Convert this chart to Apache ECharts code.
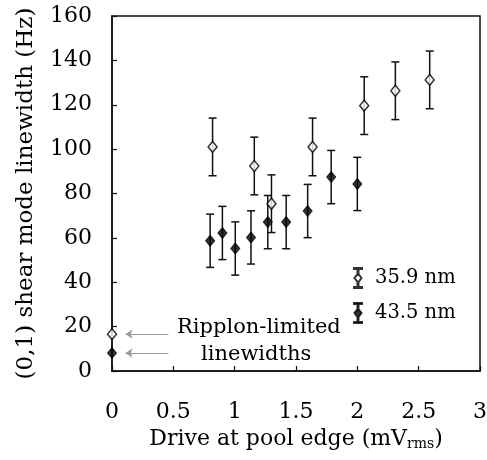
<!DOCTYPE html>
<html>
<head>
<meta charset="utf-8">
<script src="https://cdn.jsdelivr.net/npm/echarts@6/dist/echarts.min.js"></script>
<style>html,body{margin:0;padding:0;background:#fff}#c{width:487px;height:460px}</style>
</head>
<body>
<div id="c"></div>
<script>
// 35.9 nm (open diamonds)
var openX   = [0, 0.82, 1.16, 1.30, 1.635, 2.056, 2.31, 2.59];
var openY   = [16.6, 101, 92.4, 75.4, 101, 119.6, 126.3, 131.2];
var openErr = [0, 13, 13, 13, 13, 13, 13, 13];
// 43.5 nm (filled diamonds)
var fillX   = [0, 0.80, 0.90, 1.005, 1.133, 1.27, 1.42, 1.595, 1.787, 2.0];
var fillY   = [8.1, 58.7, 62.2, 55.2, 60.2, 67.1, 67.1, 72.1, 87.4, 84.3];
var fillErr = [0, 12, 12, 12, 12, 12, 12, 12, 12, 12];
var seriesNames = ['35.9 nm', '43.5 nm'];
var xTicks = [0, 0.5, 1, 1.5, 2, 2.5, 3];
var yTicks = [0, 20, 40, 60, 80, 100, 120, 140, 160];
// Annotation arrows (from, to) in data units
var arrowFromX = 0.46, arrowToX = 0.11;
var arrowY = [16.6, 8.1];

var FONT = 'DejaVu Serif';
function pts(xs, ys) { return xs.map(function (x, i) { return [x, ys[i]]; }); }
function errs(xs, ys, es) {
  var out = [];
  xs.forEach(function (x, i) { if (es[i] > 0) out.push([x, ys[i] - es[i], ys[i] + es[i]]); });
  return out;
}
function renderErr(params, api) {
  var x = api.value(0);
  var lo = api.coord([x, api.value(1)]);
  var hi = api.coord([x, api.value(2)]);
  var w = 4;
  var st = { stroke: '#111', lineWidth: 1.5 };
  return {
    type: 'group',
    children: [
      { type: 'line', shape: { x1: lo[0], y1: lo[1], x2: hi[0], y2: hi[1] }, style: st },
      { type: 'line', shape: { x1: lo[0] - w, y1: lo[1], x2: lo[0] + w, y2: lo[1] }, style: st },
      { type: 'line', shape: { x1: hi[0] - w, y1: hi[1], x2: hi[0] + w, y2: hi[1] }, style: st }
    ]
  };
}
var iconPath = 'path://M0 0H8V1H4.5V5.5H3.5V1H0Z M4 5.5L7.5 10L4 14.5L0.5 10Z M3.5 14.5H4.5V19H8V20H0V19H3.5Z';

var chart = echarts.init(document.getElementById('c'));
chart.setOption({
  animation: false,
  textStyle: { fontFamily: FONT, color: '#000' },
  grid: { left: 112, right: 7, top: 16, bottom: 89, containLabel: false, outerBoundsMode: 'none', show: true, borderColor: '#111', borderWidth: 1.5, backgroundColor: 'transparent' },
  legend: {
    orient: 'vertical', left: 348, top: 262, itemWidth: 8, itemHeight: 20, itemGap: 13,
    data: seriesNames.map(function (n) { return { name: n, icon: iconPath }; }),
    textStyle: { fontFamily: FONT, fontSize: 19.5, color: '#000', padding: [0, 0, 0, 8] }
  },
  xAxis: {
    type: 'value', min: xTicks[0], max: xTicks[xTicks.length - 1], interval: 0.5,
    name: '{a|Drive at pool edge (mV}{s|rms}{a|)}', nameLocation: 'middle', nameGap: 57,
    nameTextStyle: { rich: { a: { fontFamily: FONT, fontSize: 22, color: '#000' }, s: { fontFamily: FONT, fontSize: 14, color: '#000', verticalAlign: 'bottom', padding: [9, 0, 0, 0] } } },
    axisLine: { show: true, lineStyle: { color: '#111', width: 1.5 } },
    axisTick: { inside: true, length: 5, lineStyle: { color: '#111', width: 1.2 } },
    axisLabel: { margin: 30, fontSize: 22, color: '#000', fontFamily: FONT, formatter: function (v) { return String(v); } },
    splitLine: { show: false }
  },
  yAxis: {
    type: 'value', min: yTicks[0], max: yTicks[yTicks.length - 1], interval: 20,
    name: '(0,1) shear mode linewidth (Hz)', nameLocation: 'middle', nameGap: 74,
    nameTextStyle: { fontFamily: FONT, fontSize: 23, color: '#000' },
    axisLine: { show: true, lineStyle: { color: '#111', width: 1.5 } },
    axisTick: { inside: true, length: 5, lineStyle: { color: '#111', width: 1.2 } },
    axisLabel: { margin: 20, fontSize: 22, color: '#000', fontFamily: FONT, padding: [6, 0, 0, 0] },
    splitLine: { show: false }
  },
  graphic: [
    { type: 'text', left: 177, top: 317, style: { text: 'Ripplon-limited', font: '21px "DejaVu Serif"', fill: '#000' } },
    { type: 'text', left: 201, top: 344, style: { text: 'linewidths', font: '21px "DejaVu Serif"', fill: '#000' } }
  ],
  series: [
    { type: 'custom', name: 'err1', renderItem: renderErr, data: errs(openX, openY, openErr), z: 1, clip: false },
    { type: 'custom', name: 'err2', renderItem: renderErr, data: errs(fillX, fillY, fillErr), z: 1, clip: false },
    {
      type: 'scatter', name: seriesNames[1], data: pts(fillX, fillY), symbol: 'diamond', symbolSize: [9, 11], clip: false, z: 3,
      itemStyle: { color: '#000', borderColor: '#000', borderWidth: 1 }
    },
    {
      type: 'scatter', name: seriesNames[0], data: pts(openX, openY), symbol: 'diamond', symbolSize: [9, 11], clip: false, z: 4,
      itemStyle: { color: '#fff', borderColor: '#000', borderWidth: 1.5 }
    },
    {
      type: 'lines', coordinateSystem: 'cartesian2d', z: 2, silent: true,
      symbol: ['none', 'arrow'], symbolSize: 7,
      lineStyle: { color: '#999', width: 1.2, opacity: 1 },
      data: arrowY.map(function (y) { return { coords: [[arrowFromX, y], [arrowToX, y]] }; })
    }
  ]
});
</script>
</body>
</html>
